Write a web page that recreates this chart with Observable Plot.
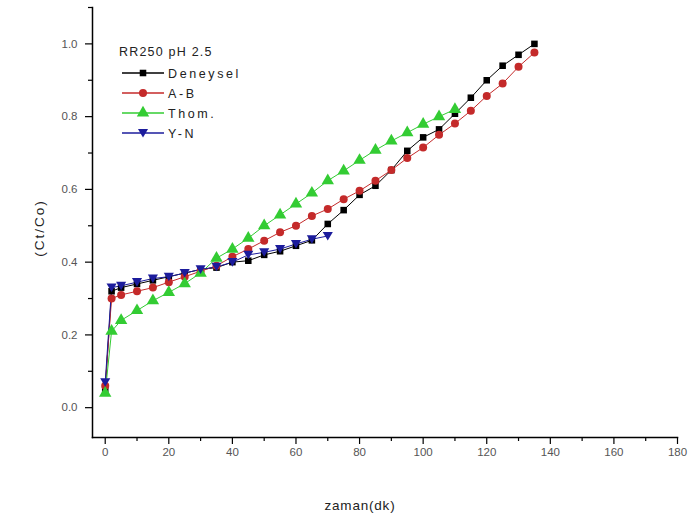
<!DOCTYPE html>
<html>
<head>
<meta charset="utf-8">
<script src="https://cdn.jsdelivr.net/npm/d3@7"></script>
<script src="https://cdn.jsdelivr.net/npm/@observablehq/plot@0.6"></script>
<style>
  html, body { margin: 0; padding: 0; background: #fff; }
  #chart { width: 700px; height: 525px; }
  svg { font-family: "Liberation Sans", Arial, sans-serif; }
</style>
</head>
<body>
<div id="chart"></div>
<script>
// ---- data ----
const legendTitle = "RR250 pH 2.5";
const seriesNames = ["Deneysel", "A-B", "Thom.", "Y-N"];
const seriesColors = ["#000000", "#c42a2a", "#33cc33", "#1c1c9c"];
const times = [0, 2, 5, 10, 15, 20, 25, 30, 35, 40, 45, 50, 55, 60, 65, 70, 75, 80, 85, 90, 95, 100, 105, 110, 115, 120, 125, 130, 135];
const deneysel = [0.05, 0.32, 0.33, 0.34, 0.35, 0.36, 0.37, 0.38, 0.385, 0.40, 0.404, 0.42, 0.43, 0.445, 0.46, 0.505, 0.543, 0.585, 0.61, 0.653, 0.706, 0.743, 0.765, 0.808, 0.852, 0.90, 0.94, 0.97, 1.0];
const ab = [0.06, 0.30, 0.31, 0.32, 0.33, 0.345, 0.36, 0.375, 0.39, 0.415, 0.436, 0.459, 0.482, 0.50, 0.527, 0.546, 0.573, 0.596, 0.624, 0.653, 0.686, 0.715, 0.75, 0.781, 0.816, 0.857, 0.891, 0.937, 0.976];
const thom = [0.04, 0.21, 0.24, 0.267, 0.294, 0.317, 0.341, 0.37, 0.411, 0.436, 0.466, 0.50, 0.53, 0.56, 0.59, 0.624, 0.651, 0.68, 0.708, 0.733, 0.756, 0.779, 0.80, 0.82];
const yn = [0.07, 0.33, 0.335, 0.345, 0.355, 0.36, 0.37, 0.38, 0.387, 0.40, 0.42, 0.427, 0.436, 0.45, 0.463, 0.472];
const xMajorTicks = [0, 20, 40, 60, 80, 100, 120, 140, 160, 180];
const xMinorTicks = [10, 30, 50, 70, 90, 110, 130, 150, 170];
const yMajorTicks = [0.0, 0.2, 0.4, 0.6, 0.8, 1.0];
const yMinorTicks = [0.1, 0.3, 0.5, 0.7, 0.9, 1.1];
const xLabel = "zaman(dk)";
const yLabel = "(Ct/Co)";

// ---- build table ----
const valueArrays = [deneysel, ab, thom, yn];
const rows = [];
valueArrays.forEach((vals, i) => {
  vals.forEach((v, j) => rows.push({series: seriesNames[i], t: times[j], v}));
});

const triDown = {
  draw(ctx, size) {
    const s = Math.sqrt(size);
    ctx.moveTo(0, s * 0.55);
    ctx.lineTo(-s * 0.62, -s * 0.5);
    ctx.lineTo(s * 0.62, -s * 0.5);
    ctx.closePath();
  }
};
const symbols = ["square", "circle", "triangle", triDown];
const d3Symbols = [d3.symbolSquare, d3.symbolCircle, d3.symbolTriangle, triDown];
const radii = [3.7, 4.0, 4.6, 4.6];

const marks = [];
seriesNames.forEach((name, i) => {
  const d = rows.filter(r => r.series === name);
  marks.push(Plot.line(d, {x: "t", y: "v", stroke: seriesColors[i], strokeWidth: 1}));
});
seriesNames.forEach((name, i) => {
  const d = rows.filter(r => r.series === name);
  marks.push(Plot.dot(d, {x: "t", y: "v", symbol: () => symbols[i], r: radii[i], fill: seriesColors[i], stroke: "none"}));
});

const plot = Plot.plot({
  width: 700,
  height: 525,
  marginLeft: 92,
  marginRight: 23,
  marginTop: 7,
  marginBottom: 88,
  style: {background: "#fff", fontFamily: "Liberation Sans, Arial, sans-serif"},
  x: {domain: [-4, 180]},
  y: {domain: [-0.082, 1.1]},
  symbol: {type: "identity"},
  marks: [
    Plot.axisX({ticks: xMajorTicks, tickSize: 7, tickPadding: 3, tickFormat: d3.format("d"), fontSize: 11.5, color: "#555", stroke: "#000", strokeWidth: 1.2, label: null}),
    Plot.axisX({ticks: xMinorTicks, tickSize: 4, tickFormat: () => "", stroke: "#000", strokeWidth: 1.2, label: null}),
    Plot.axisY({ticks: yMajorTicks, tickSize: 7, tickPadding: 8, tickFormat: d3.format(".1f"), fontSize: 11.5, color: "#555", stroke: "#000", strokeWidth: 1.2, label: null}),
    Plot.axisY({ticks: yMinorTicks, tickSize: 4, tickFormat: () => "", stroke: "#000", strokeWidth: 1.2, label: null}),
    Plot.frame({anchor: "left", stroke: "#000", strokeWidth: 1.5}),
    Plot.frame({anchor: "bottom", stroke: "#000", strokeWidth: 1.5}),
    ...marks
  ]
});
document.getElementById("chart").appendChild(plot);

// ---- axis titles and legend ----
const svg = d3.select(plot);
svg.append("text")
  .attr("x", 360).attr("y", 510)
  .attr("text-anchor", "middle")
  .attr("font-size", 13.5).attr("letter-spacing", 0.8).attr("fill", "#222")
  .text(xLabel);
svg.append("text")
  .attr("transform", "translate(44,228) rotate(-90)")
  .attr("text-anchor", "middle")
  .attr("font-size", 13.5).attr("letter-spacing", 2).attr("fill", "#222")
  .text(yLabel);

const lg = svg.append("g").attr("font-size", 12.5).attr("fill", "#222").attr("text-anchor", "start");
lg.append("text").attr("x", 119).attr("y", 56).attr("letter-spacing", 1.2).text(legendTitle);
seriesNames.forEach((name, i) => {
  const cy = 73 + i * 20;
  lg.append("line").attr("x1", 122).attr("x2", 164).attr("y1", cy).attr("y2", cy)
    .attr("stroke", seriesColors[i]).attr("stroke-width", 1.5);
  lg.append("path")
    .attr("transform", `translate(143,${cy})`)
    .attr("d", d3.symbol(d3Symbols[i], Math.PI * radii[i] * radii[i])())
    .attr("fill", seriesColors[i]);
  lg.append("text").attr("x", 168).attr("y", cy + 4.5).attr("letter-spacing", 2.6).text(name);
});
</script>
</body>
</html>
